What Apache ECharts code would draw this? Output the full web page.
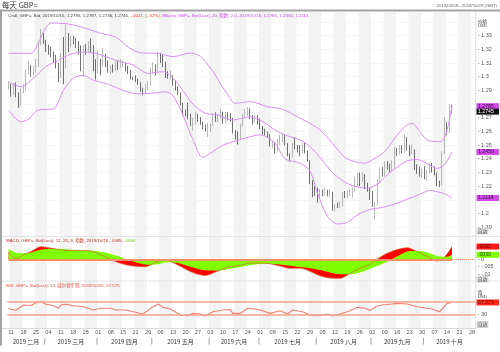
<!DOCTYPE html>
<html>
<head>
<meta charset="utf-8">
<script src="https://cdn.jsdelivr.net/npm/echarts@6/dist/echarts.min.js"></script>
<style>
  html, body { margin: 0; padding: 0; background: #fff; }
  #chart { width: 500px; height: 352px; }
</style>
</head>
<body>
<div id="chart"></div>
<script>
// ---------------- 数据 ----------------
// 交易日 2019/02/08 - 2019/10/29（工作日）
const dates = [];
for (let t = Date.UTC(2019, 1, 8); t <= Date.UTC(2019, 9, 29); t += 86400000) {
  const wd = new Date(t).getUTCDay();
  if (wd !== 0 && wd !== 6) dates.push(new Date(t).toISOString().slice(0, 10));
}

const opens = [
  1.2938, 1.2942, 1.2892, 1.2945, 1.2868, 1.2798, 1.2895, 1.2920, 1.3045, 1.3062,
  1.3040, 1.3055, 1.3085, 1.3248, 1.3310, 1.3258, 1.3205, 1.3180, 1.3165, 1.3120,
  1.3075, 1.3010, 1.3150, 1.3075, 1.3310, 1.3245, 1.3265, 1.3260, 1.3250, 1.3200,
  1.3110, 1.3210, 1.3200, 1.3230, 1.3225, 1.3055, 1.3030, 1.3100, 1.3085, 1.3165,
  1.3090, 1.3040, 1.3065, 1.3050, 1.3110, 1.3070, 1.3085, 1.3090, 1.3075, 1.3040,
  1.2990, 1.2985, 1.2980, 1.2945, 1.2905, 1.2890, 1.2915, 1.2940, 1.3040, 1.3045,
  1.3040, 1.3170, 1.3140, 1.3090, 1.3010, 1.2995, 1.3005, 1.2950, 1.2920, 1.2880,
  1.2800, 1.2725, 1.2720, 1.2710, 1.2655, 1.2660, 1.2710, 1.2685, 1.2660, 1.2630,
  1.2615, 1.2630, 1.2650, 1.2700, 1.2690, 1.2715, 1.2740, 1.2670, 1.2725, 1.2695,
  1.2690, 1.2595, 1.2550, 1.2545, 1.2650, 1.2715, 1.2735, 1.2745, 1.2700, 1.2690,
  1.2695, 1.2690, 1.2625, 1.2590, 1.2580, 1.2565, 1.2510, 1.2515, 1.2465, 1.2515,
  1.2540, 1.2570, 1.2510, 1.2425, 1.2420, 1.2505, 1.2480, 1.2475, 1.2445, 1.2490,
  1.2455, 1.2385, 1.2230, 1.2165, 1.2150, 1.2140, 1.2160, 1.2145, 1.2165, 1.2140,
  1.2150, 1.2030, 1.2060, 1.2055, 1.2065, 1.2145, 1.2140, 1.2150, 1.2160, 1.2170,
  1.2250, 1.2280, 1.2240, 1.2285, 1.2210, 1.2175, 1.2155, 1.2060, 1.2065, 1.2230,
  1.2315, 1.2290, 1.2355, 1.2345, 1.2320, 1.2340, 1.2475, 1.2440, 1.2490, 1.2460,
  1.2505, 1.2475, 1.2440, 1.2465, 1.2335, 1.2305, 1.2290, 1.2300, 1.2275, 1.2305,
  1.2330, 1.2320, 1.2290, 1.2215, 1.2210, 1.2440, 1.2660, 1.2610, 1.2787
];
const highs = [
  1.2968, 1.2950, 1.2958, 1.2958, 1.2885, 1.2915, 1.2945, 1.3055, 1.3110, 1.3085,
  1.3080, 1.3130, 1.3260, 1.3350, 1.3320, 1.3270, 1.3235, 1.3220, 1.3185, 1.3160,
  1.3100, 1.3175, 1.3290, 1.3380, 1.3320, 1.3300, 1.3300, 1.3285, 1.3260, 1.3230,
  1.3230, 1.3240, 1.3260, 1.3280, 1.3230, 1.3130, 1.3195, 1.3130, 1.3210, 1.3170,
  1.3120, 1.3085, 1.3090, 1.3120, 1.3120, 1.3130, 1.3120, 1.3100, 1.3080, 1.3050,
  1.3000, 1.3010, 1.2985, 1.2960, 1.2920, 1.2950, 1.2970, 1.3070, 1.3105, 1.3090,
  1.3180, 1.3175, 1.3160, 1.3110, 1.3040, 1.3045, 1.3010, 1.2975, 1.2930, 1.2885,
  1.2810, 1.2760, 1.2810, 1.2730, 1.2700, 1.2745, 1.2730, 1.2705, 1.2670, 1.2650,
  1.2660, 1.2660, 1.2730, 1.2740, 1.2725, 1.2765, 1.2745, 1.2745, 1.2740, 1.2735,
  1.2700, 1.2610, 1.2600, 1.2660, 1.2730, 1.2765, 1.2780, 1.2770, 1.2720, 1.2720,
  1.2720, 1.2695, 1.2640, 1.2620, 1.2600, 1.2580, 1.2530, 1.2525, 1.2545, 1.2575,
  1.2590, 1.2580, 1.2515, 1.2440, 1.2520, 1.2560, 1.2500, 1.2500, 1.2520, 1.2520,
  1.2460, 1.2390, 1.2245, 1.2200, 1.2190, 1.2180, 1.2175, 1.2190, 1.2175, 1.2180,
  1.2160, 1.2070, 1.2080, 1.2090, 1.2160, 1.2165, 1.2165, 1.2175, 1.2190, 1.2270,
  1.2300, 1.2300, 1.2300, 1.2290, 1.2225, 1.2190, 1.2165, 1.2085, 1.2250, 1.2330,
  1.2340, 1.2380, 1.2385, 1.2365, 1.2390, 1.2490, 1.2480, 1.2500, 1.2500, 1.2580,
  1.2560, 1.2500, 1.2505, 1.2470, 1.2360, 1.2345, 1.2330, 1.2345, 1.2320, 1.2370,
  1.2370, 1.2345, 1.2300, 1.2240, 1.2455, 1.2705, 1.2670, 1.2800, 1.2795
];
const lows = [
  1.2910, 1.2855, 1.2870, 1.2850, 1.2773, 1.2790, 1.2880, 1.2905, 1.3020, 1.3000,
  1.3010, 1.3030, 1.3070, 1.3230, 1.3240, 1.3180, 1.3160, 1.3140, 1.3100, 1.3060,
  1.2960, 1.2990, 1.2945, 1.3060, 1.3180, 1.3215, 1.3235, 1.3210, 1.3160, 1.3040,
  1.3000, 1.3160, 1.3180, 1.3180, 1.3040, 1.2980, 1.3020, 1.3010, 1.3075, 1.3070,
  1.3030, 1.3020, 1.3030, 1.3040, 1.3050, 1.3065, 1.3070, 1.3040, 1.3020, 1.2980,
  1.2975, 1.2960, 1.2940, 1.2890, 1.2865, 1.2880, 1.2900, 1.2935, 1.3020, 1.3010,
  1.3030, 1.3100, 1.3070, 1.2990, 1.2985, 1.2980, 1.2935, 1.2900, 1.2865, 1.2790,
  1.2715, 1.2710, 1.2690, 1.2640, 1.2605, 1.2650, 1.2670, 1.2650, 1.2615, 1.2600,
  1.2560, 1.2595, 1.2640, 1.2670, 1.2670, 1.2690, 1.2655, 1.2660, 1.2680, 1.2670,
  1.2585, 1.2540, 1.2505, 1.2540, 1.2640, 1.2705, 1.2715, 1.2690, 1.2650, 1.2665,
  1.2650, 1.2615, 1.2580, 1.2570, 1.2555, 1.2490, 1.2480, 1.2440, 1.2455, 1.2500,
  1.2520, 1.2500, 1.2420, 1.2380, 1.2410, 1.2470, 1.2445, 1.2420, 1.2440, 1.2440,
  1.2380, 1.2215, 1.2120, 1.2130, 1.2080, 1.2110, 1.2125, 1.2130, 1.2125, 1.2120,
  1.2020, 1.2015, 1.2040, 1.2040, 1.2055, 1.2115, 1.2110, 1.2130, 1.2120, 1.2160,
  1.2200, 1.2200, 1.2230, 1.2180, 1.2160, 1.2100, 1.2050, 1.1960, 1.2060, 1.2220,
  1.2270, 1.2275, 1.2320, 1.2300, 1.2310, 1.2335, 1.2420, 1.2430, 1.2440, 1.2445,
  1.2460, 1.2420, 1.2435, 1.2320, 1.2290, 1.2270, 1.2260, 1.2250, 1.2240, 1.2290,
  1.2300, 1.2280, 1.2200, 1.2195, 1.2205, 1.2435, 1.2575, 1.2590, 1.2736
];
const closes = [
  1.2942, 1.2892, 1.2945, 1.2868, 1.2798, 1.2895, 1.2920, 1.3045, 1.3062, 1.3040,
  1.3055, 1.3085, 1.3248, 1.3310, 1.3258, 1.3205, 1.3180, 1.3165, 1.3120, 1.3075,
  1.3010, 1.3150, 1.3075, 1.3310, 1.3245, 1.3265, 1.3260, 1.3250, 1.3200, 1.3110,
  1.3210, 1.3200, 1.3230, 1.3225, 1.3055, 1.3030, 1.3100, 1.3085, 1.3165, 1.3090,
  1.3040, 1.3065, 1.3050, 1.3110, 1.3070, 1.3085, 1.3090, 1.3075, 1.3040, 1.2990,
  1.2985, 1.2980, 1.2945, 1.2905, 1.2890, 1.2915, 1.2940, 1.3040, 1.3045, 1.3040,
  1.3170, 1.3140, 1.3090, 1.3010, 1.2995, 1.3005, 1.2950, 1.2920, 1.2880, 1.2800,
  1.2725, 1.2720, 1.2710, 1.2655, 1.2660, 1.2710, 1.2685, 1.2660, 1.2630, 1.2615,
  1.2630, 1.2650, 1.2700, 1.2690, 1.2715, 1.2740, 1.2670, 1.2725, 1.2695, 1.2690,
  1.2595, 1.2550, 1.2545, 1.2650, 1.2715, 1.2735, 1.2745, 1.2700, 1.2690, 1.2695,
  1.2690, 1.2625, 1.2590, 1.2580, 1.2565, 1.2510, 1.2515, 1.2465, 1.2515, 1.2540,
  1.2570, 1.2510, 1.2425, 1.2420, 1.2505, 1.2480, 1.2475, 1.2445, 1.2490, 1.2455,
  1.2385, 1.2230, 1.2165, 1.2150, 1.2140, 1.2160, 1.2145, 1.2165, 1.2140, 1.2150,
  1.2030, 1.2060, 1.2055, 1.2065, 1.2145, 1.2140, 1.2150, 1.2160, 1.2170, 1.2250,
  1.2280, 1.2240, 1.2285, 1.2210, 1.2175, 1.2155, 1.2060, 1.2065, 1.2230, 1.2315,
  1.2290, 1.2355, 1.2345, 1.2320, 1.2340, 1.2475, 1.2440, 1.2490, 1.2460, 1.2505,
  1.2475, 1.2440, 1.2465, 1.2335, 1.2305, 1.2290, 1.2300, 1.2275, 1.2305, 1.2330,
  1.2320, 1.2290, 1.2215, 1.2210, 1.2440, 1.2660, 1.2610, 1.2787, 1.2745
];

// 布林带 [交易日序号, 值]
const bbUpper = [
  [0, 1.3171], [9, 1.3171], [12, 1.3250], [15, 1.3360], [17, 1.3392], [23, 1.3388],
  [29, 1.3364], [37, 1.3318], [43, 1.3290], [48, 1.3217], [53, 1.3175], [60, 1.3171],
  [66, 1.3147], [73, 1.3173], [77, 1.3150], [79, 1.3110], [82, 1.3040], [85, 1.2950],
  [88, 1.2870], [91, 1.2806], [97, 1.2818], [104, 1.2781], [110, 1.2762], [117, 1.2697],
  [121, 1.2660], [125, 1.2611], [130, 1.2514], [135, 1.2410], [139, 1.2380], [143, 1.2368],
  [147, 1.2404], [151, 1.2453], [155, 1.2551], [159, 1.2635], [162, 1.2660], [165, 1.2600],
  [168, 1.2538], [172, 1.2526], [174, 1.2530], [176, 1.2611], [178, 1.2785]
];
const bbMiddle = [
  [0, 1.2962], [5, 1.2927], [10, 1.2990], [15, 1.3075], [20, 1.3120], [25, 1.3166],
  [30, 1.3180], [35, 1.3170], [40, 1.3140], [45, 1.3110], [50, 1.3085], [56, 1.3025],
  [62, 1.3037], [66, 1.2990], [70, 1.2900], [74, 1.2800], [79, 1.2733], [84, 1.2721],
  [90, 1.2684], [97, 1.2708], [102, 1.2672], [108, 1.2599], [113, 1.2562], [117, 1.2538],
  [121, 1.2490], [125, 1.2410], [130, 1.2300], [135, 1.2230], [139, 1.2200], [144, 1.2185],
  [148, 1.2215], [152, 1.2283], [156, 1.2340], [160, 1.2385], [164, 1.2395], [168, 1.2365],
  [172, 1.2330], [175, 1.2360], [178, 1.2450]
];
const bbLower = [
  [0, 1.2757], [5, 1.2670], [8, 1.2690], [12, 1.2757], [18, 1.2765], [22, 1.2900],
  [26, 1.2990], [30, 1.3010], [34, 1.2975], [40, 1.2945], [46, 1.2900], [52, 1.2875],
  [58, 1.2880], [63, 1.2890], [66, 1.2860], [70, 1.2720], [74, 1.2540], [78, 1.2410],
  [81, 1.2440], [86, 1.2500], [91, 1.2530], [97, 1.2562], [101, 1.2575], [107, 1.2514],
  [111, 1.2400], [117, 1.2368], [121, 1.2310], [124, 1.2150], [128, 1.1980], [132, 1.1925],
  [136, 1.1935], [140, 1.1990], [145, 1.2030], [150, 1.2045], [155, 1.2070], [160, 1.2105],
  [165, 1.2140], [169, 1.2170], [172, 1.2160], [175, 1.2145], [178, 1.2114]
];

// MACD (12, 26, 9)
const macdLine = [
  [0, 0.0050], [3, 0.0002], [6, 0.0030], [9, 0.0052], [13, 0.0084], [17, 0.0075],
  [21, 0.0062], [25, 0.0060], [29, 0.0058], [33, 0.0055], [37, 0.0030], [40, 0.0007],
  [44, -0.0022], [48, -0.0040], [52, -0.0048], [55, -0.0050], [59, -0.0020], [63, -0.0005],
  [67, -0.0030], [71, -0.0065], [75, -0.0095], [79, -0.0108], [83, -0.0085], [88, -0.0052],
  [93, -0.0040], [97, -0.0025], [101, -0.0025], [105, -0.0030], [109, -0.0045], [113, -0.0060],
  [117, -0.0060], [121, -0.0080], [125, -0.0110], [129, -0.0125], [133, -0.0127], [137, -0.0095],
  [141, -0.0060], [145, -0.0035], [148, 0.0002], [152, 0.0040], [156, 0.0065], [160, 0.0077],
  [163, 0.0060], [166, 0.0035], [169, 0.0012], [172, -0.0011], [174, 0.0000], [176, 0.0035],
  [178, 0.0085]
];
const signalLine = [
  [0, 0.0068], [4, 0.0040], [8, 0.0042], [12, 0.0060], [16, 0.0070], [20, 0.0070],
  [25, 0.0064], [30, 0.0060], [35, 0.0055], [40, 0.0040], [44, 0.0020], [48, -0.0005],
  [52, -0.0025], [56, -0.0037], [60, -0.0033], [64, -0.0020], [68, -0.0025], [72, -0.0045],
  [76, -0.0065], [80, -0.0075], [84, -0.0075], [88, -0.0065], [92, -0.0055], [97, -0.0040],
  [102, -0.0030], [107, -0.0032], [112, -0.0042], [117, -0.0052], [121, -0.0060], [125, -0.0072],
  [129, -0.0088], [133, -0.0100], [137, -0.0100], [141, -0.0088], [145, -0.0065], [149, -0.0038],
  [153, -0.0008], [157, 0.0028], [161, 0.0055], [165, 0.0055], [169, 0.0040], [173, 0.0018],
  [176, 0.0017], [178, 0.0030]
];

// RSI (14)
const rsiLine = [
  [0, 49], [1, 45], [3, 43], [6, 59.5], [9, 58], [11, 66.8], [13, 70], [15, 61.7],
  [18, 58], [20, 49], [21, 59.5], [23, 62], [26, 57.3], [30, 54], [34, 43.7], [37, 49],
  [41, 49], [43, 43.7], [47, 43.7], [50, 38.3], [54, 31], [57, 49], [60, 62.7], [62, 52],
  [65, 47], [69, 27.8], [72, 25.6], [74, 33], [77, 31], [79, 24.6], [82, 38.3], [86, 43.7],
  [89, 45], [90, 33], [93, 33], [96, 49], [97, 49], [101, 43.7], [105, 33], [109, 41],
  [112, 31], [114, 43.7], [118, 38.3], [121, 27.8], [124, 25.6], [128, 31], [130, 24.6],
  [133, 31], [136, 38.3], [140, 52], [143, 49], [145, 43], [148, 56.3], [150, 59.5],
  [154, 62.7], [156, 64.6], [160, 62.7], [164, 54], [168, 49], [170, 47], [173, 38.3],
  [176, 64.6], [178, 67.575]
];

// ---------------- 布局 ----------------
const FONT = "'Liberation Sans', 'Noto Sans CJK SC', sans-serif";
const CJK = "'Noto Sans CJK SC', 'Liberation Sans', sans-serif";
const gridL = 7.3, gridW = 468.4;

// 每隔一周的灰色底纹
const shade = [];
dates.forEach((d, i) => {
  if (new Date(d).getUTCDay() === 1 && Math.round((i - 1) / 5) % 2 === 0) {
    shade.push([{ xAxis: i }, { xAxis: Math.min(i + 5, dates.length) }]);
  }
});

const hiddenX = (i) => ({
  type: 'category', gridIndex: i, data: dates, boundaryGap: true,
  axisLine: { show: false }, axisTick: { show: false }, axisLabel: { show: false },
  splitLine: { show: false }
});

const priceHide = [1.18, 1.21, 1.28, 1.34, 1.35];

const option = {
  animation: false,
  backgroundColor: '#fff',
  grid: [
    { left: gridL, width: gridW, top: 8.3, height: 232.7 },
    { left: gridL, width: gridW, top: 236.8, height: 45 },
    { left: gridL, width: gridW, top: 282.8, height: 44.1 },
    { left: gridL, width: gridW, top: 12, height: 316.3 }
  ],
  xAxis: [
    hiddenX(0),
    hiddenX(1),
    Object.assign(hiddenX(2), {
      axisLabel: {
        show: true, margin: 3, fontSize: 5.5, color: '#555', fontFamily: FONT,
        interval: (i, v) => new Date(v).getUTCDay() === 1,
        formatter: (v) => v.slice(8, 10)
      }
    }),
    { type: 'value', gridIndex: 3, min: 0, max: dates.length, show: false }
  ],
  yAxis: [
    {
      gridIndex: 0, position: 'right', min: 1.18, max: 1.35, interval: 0.01,
      axisLine: { show: false }, axisTick: { show: false },
      axisLabel: {
        margin: 2, fontSize: 5.5, color: '#555', fontFamily: FONT,
        formatter: (v) => priceHide.some(h => Math.abs(h - v) < 1e-6) ? '' : '- ' + parseFloat(v.toFixed(2))
      },
      splitLine: { show: true, showMinLine: false, showMaxLine: false, lineStyle: { color: '#ededed', width: 0.5 } }
    },
    {
      gridIndex: 1, position: 'right', min: -0.015, max: 0.015, interval: 0.005,
      axisLine: { show: false }, axisTick: { show: false }, splitLine: { show: false },
      axisLabel: {
        margin: 2, fontSize: 5.5, color: '#555', fontFamily: FONT,
        formatter: (v) => {
          if (Math.abs(v) < 1e-9) return '- 0';
          if (Math.abs(v + 0.005) < 1e-9) return '- -.005';
          if (Math.abs(v + 0.01) < 1e-9) return '- -.01';
          return '';
        }
      }
    },
    {
      gridIndex: 2, position: 'right', min: -10, max: 130, interval: 10,
      axisLine: { show: false }, axisTick: { show: false }, splitLine: { show: false },
      axisLabel: {
        margin: 2, fontSize: 5.5, color: '#555', fontFamily: FONT,
        formatter: (v) => v === 30 ? '- 30' : ''
      }
    },
    { type: 'value', gridIndex: 3, min: 0, max: 1, show: false }
  ],
  series: [
    {
      type: 'line', xAxisIndex: 3, yAxisIndex: 3, data: [], z: 0, silent: true,
      markArea: { silent: true, itemStyle: { color: '#f3f3f3' }, data: shade }
    },
    {
      type: 'candlestick', xAxisIndex: 0, yAxisIndex: 0, z: 3,
      barMaxWidth: 1.8,
      data: opens.map((o, i) => [o, closes[i], lows[i], highs[i]]),
      itemStyle: { color: '#d2d2d2', color0: '#111', borderColor: '#8a8a8a', borderColor0: '#111', borderWidth: 0.6 }
    },
    ...[bbUpper, bbMiddle, bbLower].map(d => ({
      type: 'line', xAxisIndex: 0, yAxisIndex: 0, data: d, z: 4,
      showSymbol: false, smooth: 0.3, lineStyle: { color: '#da8ef2', width: 1 }
    })),
    {
      type: 'line', xAxisIndex: 1, yAxisIndex: 1, data: macdLine, z: 2,
      showSymbol: false, smooth: 0.3, lineStyle: { width: 0 }, areaStyle: { color: '#ff0000', opacity: 1 }
    },
    {
      type: 'line', xAxisIndex: 1, yAxisIndex: 1, data: signalLine, z: 3,
      showSymbol: false, smooth: 0.3, lineStyle: { width: 0 }, areaStyle: { color: '#80ff00', opacity: 1 }
    },
    {
      type: 'line', xAxisIndex: 1, yAxisIndex: 1, data: macdLine, z: 4,
      showSymbol: false, smooth: 0.3, lineStyle: { color: '#d9602e', width: 0.7 },
      markLine: {
        silent: true, symbol: 'none', label: { show: false },
        data: [
          [{ coord: [0, 0] }, { coord: [178, 0], lineStyle: { type: 'solid' } }],
          [{ coord: [178, 0], lineStyle: { type: 'dotted', width: 1 } }, { coord: [dates.length - 1, 0] }]
        ],
        lineStyle: { color: '#f48f6c', width: 2, type: 'solid' }
      }
    },
    {
      type: 'line', xAxisIndex: 2, yAxisIndex: 2, data: rsiLine, z: 4,
      showSymbol: false, lineStyle: { color: '#f07f6e', width: 1.1 },
      markLine: {
        silent: true, symbol: 'none', label: { show: false },
        lineStyle: { color: '#f5a08e', width: 1.5, type: 'solid' },
        data: [{ yAxis: 70 }, { yAxis: 30 }]
      }
    }
  ]
};

const chart = echarts.init(document.getElementById('chart'));
chart.setOption(option);

// ---------------- 文字与标记 ----------------
const g = [];
const text = (x, y, s, size, color, extra) => g.push({
  type: 'text', x, y, silent: true, z: 20,
  style: Object.assign({ text: s, font: `${size}px ${FONT}`, fill: color, verticalAlign: 'middle' }, extra || {})
});
const line = (x1, y1, x2, y2, color, w) => g.push({
  type: 'line', silent: true, z: 19, shape: { x1, y1, x2, y2 }, style: { stroke: color, lineWidth: w }
});
const rect = (x, y, w, h, fill) => g.push({
  type: 'rect', silent: true, z: 19, shape: { x, y, width: w, height: h }, style: { fill }
});

// 边框
rect(0, 9.5, 500, 2, '#a3a3a3');
rect(0, 9.5, 2, 336, '#a3a3a3');
line(gridL + gridW, 12, gridL + gridW, 328.5, '#d6d6d6', 0.8);
line(2, 236.5, 500, 236.5, '#dcdcdc', 0.8);
line(2, 281, 500, 281, '#dcdcdc', 0.8);
line(2, 328.5, 476, 328.5, '#cfcfcf', 0.8);

// 标题
text(2, 5, '每天 GBP=', 7.5, '#333', { font: `7.5px ${CJK}` });
text(497, 6, '2019/02/08 - 2019/10/29 (GMT)', 4.3, '#666', { align: 'right' });

// 图例
text(8, 15.5, '{a|Cndl, GBP=, Bid, 2019/10/16, 1.2795, 1.2787, 1.2736, 1.2745, }{b|-.0041, (-.32%), }{c|BBand, GBP=, Bid(Last), 20, 指数, 2.0, 2019/10/16, 1.2785, 1.2450, 1.2114}', 4.4, '#333', {
  rich: {
    a: { fill: '#444', font: `4.4px ${FONT}` },
    b: { fill: '#ee3a22', font: `4.4px ${FONT}` },
    c: { fill: '#c447e6', font: `4.4px ${FONT}` }
  }
});
text(6, 240.5, '{a|MACD, GBP=, Bid(Last), 12, 26, 9, 指数, 2019/10/16, .0085, }{b|.0030}', 4.4, '#333', {
  rich: {
    a: { fill: '#b2352a', font: `4.4px ${FONT}` },
    b: { fill: '#66cc00', font: `4.4px ${FONT}` }
  }
});
text(6, 286, 'RSI, GBP=, Bid(Last), 14, 威尔德平滑, 2019/10/16, 67.575', 4.4, '#e0503e');

// 右轴单位
text(478, 21.5, '价格', 4.6, '#333', { font: `4.6px ${CJK}` });
text(478, 25.5, 'USD', 4.2, '#333');
text(478, 292.5, '值', 4.6, '#333', { font: `4.6px ${CJK}` });
text(478, 296.5, 'USD', 4.2, '#333');

// 自动 按钮
[231, 279, 324.5].forEach(y => {
  g.push({ type: 'rect', silent: true, z: 19, shape: { x: 477, y: y - 3, width: 11, height: 6 },
    style: { fill: '#e2e2e2', stroke: '#b5b5b5', lineWidth: 0.5 } });
  text(478, y, '自动', 4.4, '#333', { font: `4.4px ${CJK}` });
});

// 右轴数值标记
[
  [0, 1.2785, '1.2785', '#cf4ce9', '#3b0a45'],
  [0, 1.2745, '1.2745', '#111111', '#ffffff'],
  [0, 1.2450, '1.2450', '#cf4ce9', '#3b0a45'],
  [0, 1.2114, '1.2114', '#cf4ce9', '#3b0a45'],
  [1, 0.0085, '.0085', '#ff1a1a', '#6a0000'],
  [1, 0.0030, '.0030', '#80ff00', '#225500'],
  [2, 67.575, '67.575', '#ff2a1a', '#6a0000']
].forEach(([ax, v, s, bg, fg]) => {
  const y = chart.convertToPixel({ yAxisIndex: ax }, v);
  rect(476.5, y - 3, 22.5, 6, bg);
  text(478, y, s, 5.2, fg);
});

// 月份行
const monthNames = ['一月', '二月', '三月', '四月', '五月', '六月', '七月', '八月', '九月', '十月', '十一月', '十二月'];
const starts = [];
dates.forEach((d, i) => { if (i === 0 || d.slice(5, 7) !== dates[i - 1].slice(5, 7)) starts.push(i); });
const edgeX = (i) => chart.convertToPixel({ xAxisIndex: 3 }, i);
starts.forEach((s, k) => {
  const x0 = k === 0 ? gridL : edgeX(s);
  const x1 = k + 1 < starts.length ? edgeX(starts[k + 1]) : gridL + gridW;
  if (k > 0) line(x0, 338, x0, 344.5, '#777', 0.7);
  const m = parseInt(dates[s].slice(5, 7), 10) - 1;
  text((x0 + x1) / 2, 341.5, '2019 ' + monthNames[m], 6, '#333', { align: 'center', font: `6px ${CJK}` });
});

chart.setOption({ graphic: g });
</script>
</body>
</html>
